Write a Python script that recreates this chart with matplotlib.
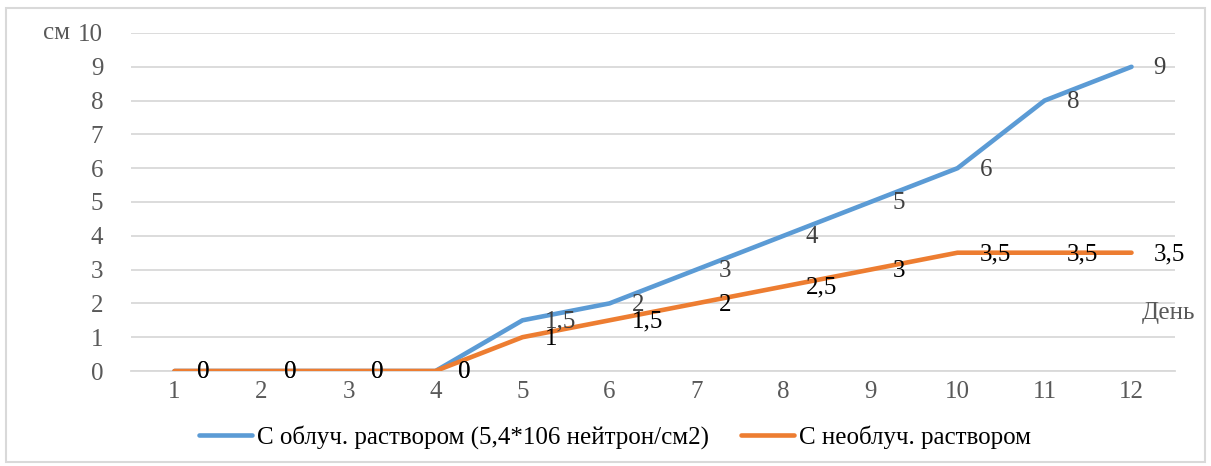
import matplotlib.pyplot as plt
from matplotlib.patches import Rectangle

# Data
days = [1, 2, 3, 4, 5, 6, 7, 8, 9, 10, 11, 12]
irradiated = [0, 0, 0, 0, 1.5, 2, 3, 4, 5, 6, 8, 9]
control = [0, 0, 0, 0, 1, 1.5, 2, 2.5, 3, 3.5, 3.5, 3.5]
label_irr = 'С облуч. раствором (5,4*106 нейтрон/см2)'
label_ctl = 'С необлуч. раствором'

BLUE = '#5B9BD5'
ORANGE = '#ED7D31'
GRID = '#D9D9D9'
TEXT = '#595959'
FS = 18


def fmt(v):
    s = ('%g' % v).replace('.', ',')
    return s


plt.rcParams['font.family'] = ['Liberation Serif', 'DejaVu Serif']

fig = plt.figure(figsize=(12.11, 4.66), dpi=100)
fig.patches.append(Rectangle((6 / 1211, 4 / 466), 1199 / 1211, 454 / 466,
                             transform=fig.transFigure, fill=False,
                             edgecolor=GRID, linewidth=1.5))

ax = fig.add_axes([131 / 1211, 95 / 466, 1044 / 1211, 338 / 466])

ax.plot(days, irradiated, color=BLUE, linewidth=3.3, label=label_irr,
        solid_capstyle='round', zorder=3)
ax.plot(days, control, color=ORANGE, linewidth=3.3, label=label_ctl,
        solid_capstyle='round', zorder=4)

# data labels to the right of each point
for x, y in zip(days, irradiated):
    ax.annotate(fmt(y), (x, y), xytext=(16, -1), textcoords='offset points',
                ha='left', va='center', fontsize=FS, color='#404040', zorder=5)
for x, y in zip(days, control):
    ax.annotate(fmt(y), (x, y), xytext=(16, -1), textcoords='offset points',
                ha='left', va='center', fontsize=FS, color='black', zorder=5)

ax.set_xlim(0.5, 12.5)
ax.set_ylim(0, 10)
ax.set_xticks(days)
ax.set_yticks(range(0, 11))
ax.grid(axis='y', color=GRID, linewidth=1.3)
ax.set_axisbelow(True)
for s in ['top', 'right', 'left']:
    ax.spines[s].set_visible(False)
ax.spines['bottom'].set_color(GRID)
ax.spines['bottom'].set_linewidth(1.3)
ax.tick_params(length=0, labelsize=FS, labelcolor=TEXT)
ax.tick_params(axis='y', pad=20)
ax.tick_params(axis='x', pad=7)

fig.text(57 / 1211, 1 - 33 / 466, 'см', fontsize=FS, color=TEXT,
         ha='center', va='center')
fig.text(1168 / 1211, 1 - 313 / 466, 'День', fontsize=FS, color=TEXT,
         ha='center', va='center')

fig.legend(loc='center', bbox_to_anchor=(0.508, 1 - 437 / 466), ncol=2,
           frameon=False, fontsize=FS, handlelength=2.1, columnspacing=1.3,
           handletextpad=0.2)

fig.savefig('out.png', dpi=100)
